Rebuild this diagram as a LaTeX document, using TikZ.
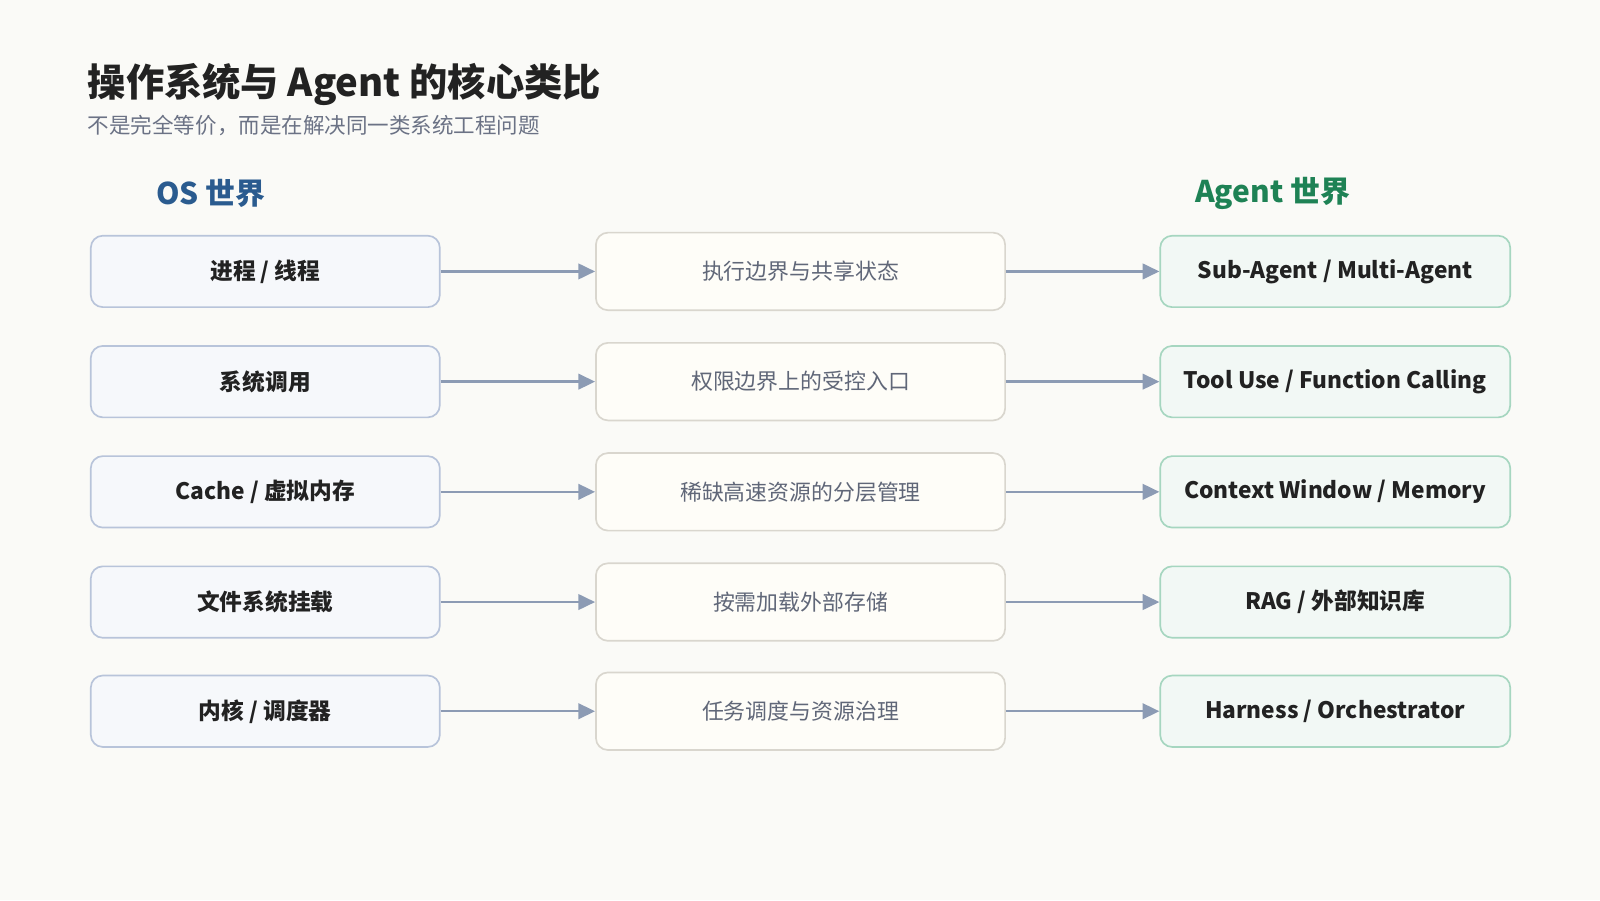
\documentclass[tikz,border=0pt]{standalone}
\usepackage{fontspec}
\setmainfont{Noto Sans CJK SC}
\usetikzlibrary{arrows.meta,positioning}
\definecolor{bgc}{HTML}{FAFAF7}
\definecolor{osfill}{HTML}{F6F8FB}
\definecolor{osline}{HTML}{B8C4DA}
\definecolor{midfill}{HTML}{FEFDF8}
\definecolor{midline}{HTML}{D9D6CE}
\definecolor{agfill}{HTML}{F2F8F5}
\definecolor{agline}{HTML}{A6D6C0}
\definecolor{arrowc}{HTML}{8C9BB4}
\definecolor{titlec}{HTML}{222222}
\definecolor{subc}{HTML}{6B7285}
\definecolor{osc}{HTML}{2A5B8F}
\definecolor{agc}{HTML}{1E8255}
\tikzset{
  osbox/.style={draw=osline,fill=osfill,line width=1.4pt,rounded corners=10pt,minimum width=342*0.03cm,minimum height=70*0.03cm,font=\fontsize{19}{21}\selectfont\bfseries,text=titlec},
  midbox/.style={draw=midline,fill=midfill,line width=1.4pt,rounded corners=10pt,minimum width=401*0.03cm,minimum height=76*0.03cm,font=\fontsize{18.3}{21}\selectfont,text=subc!90!black},
  agbox/.style={draw=agline,fill=agfill,line width=1.4pt,rounded corners=10pt,minimum width=343*0.03cm,minimum height=70*0.03cm,font=\fontsize{19}{21}\selectfont\bfseries,text=titlec},
  link/.style={draw=arrowc,line width=2pt,-{Triangle[length=14pt,width=13pt]}}
}
\begin{document}
\begin{tikzpicture}[x=0.03cm,y=0.03cm]
  \fill[bgc] (0,0) rectangle (1568,-882);
  \useasboundingbox (0,0) rectangle (1568,-882);
  % title
  \node[anchor=west,text=titlec,font=\fontsize{32}{36}\selectfont\bfseries] (title) at (82,-83) {操作系统与 Agent 的核心类比};
  \node[anchor=west,text=subc,font=\fontsize{18}{21}\selectfont] (sub) at (82,-123) {不是完全等价，而是在解决同一类系统工程问题};
  \node[anchor=west,text=osc,font=\fontsize{25}{29}\selectfont\bfseries] (osh) at (149,-190) {OS 世界};
  \node[anchor=west,text=agc,font=\fontsize{25}{29}\selectfont\bfseries] (agh) at (1167,-190) {Agent 世界};
  % rows
  \foreach \i/\y/\a/\b/\c in {
    1/266/{进程 / 线程}/{执行边界与共享状态}/{Sub-Agent / Multi-Agent},
    2/374/{系统调用}/{权限边界上的受控入口}/{Tool Use / Function Calling},
    3/482/{Cache / 虚拟内存}/{稀缺高速资源的分层管理}/{Context Window / Memory},
    4/590/{文件系统挂载}/{按需加载外部存储}/{RAG / 外部知识库},
    5/697/{内核 / 调度器}/{任务调度与资源治理}/{Harness / Orchestrator}}
  {
    \node[osbox] (l\i) at (260,-\y) {\a};
    \node[midbox] (m\i) at (784.5,-\y) {\b};
    \node[agbox] (r\i) at (1308.5,-\y) {\c};
    \draw[link] (l\i) -- (m\i);
    \draw[link] (m\i) -- (r\i);
  }
\end{tikzpicture}
\end{document}
